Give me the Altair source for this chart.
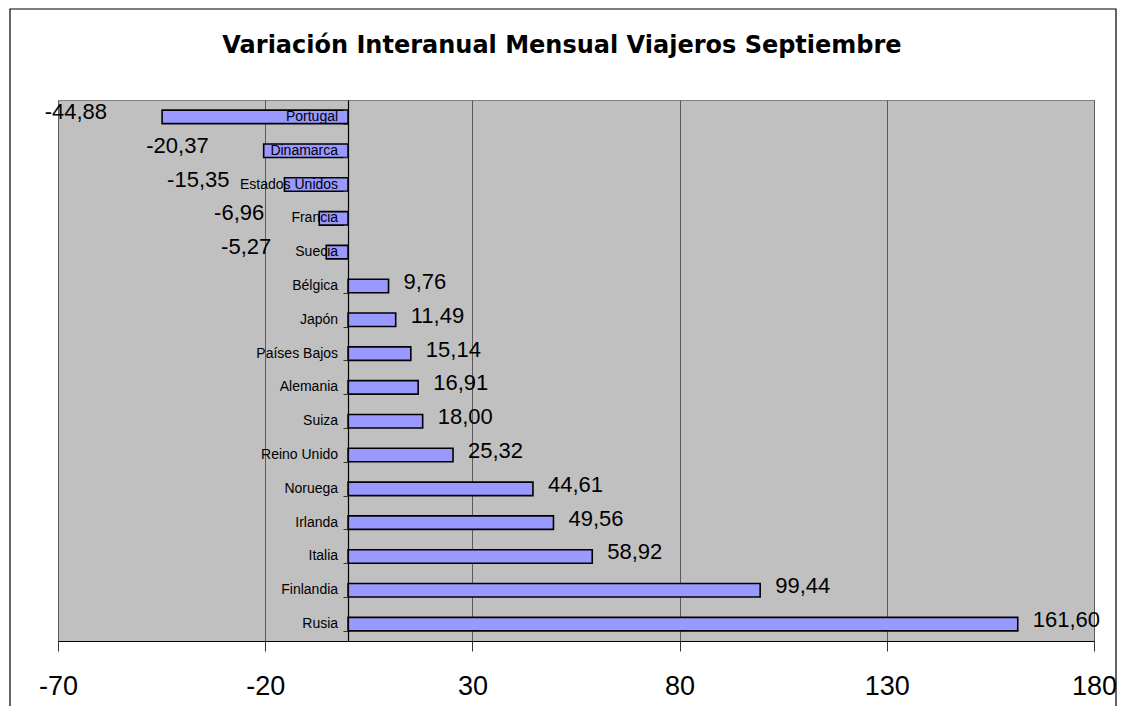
import altair as alt
import pandas as pd

countries = ["Portugal", "Dinamarca", "Estados Unidos", "Francia", "Suecia", "Bélgica",
             "Japón", "Países Bajos", "Alemania", "Suiza", "Reino Unido", "Noruega",
             "Irlanda", "Italia", "Finlandia", "Rusia"]
values = [-44.88, -20.37, -15.35, -6.96, -5.27, 9.76, 11.49, 15.14, 16.91, 18.00,
          25.32, 44.61, 49.56, 58.92, 99.44, 161.60]
x_ticks = [-70, -20, 30, 80, 130, 180]
title_text = "Variación Interanual Mensual Viajeros Septiembre"

FONT = "Liberation Sans"

df = pd.DataFrame({"pais": countries, "valor": values})
df["etiqueta"] = [f"{v:.2f}".replace(".", ",") for v in values]

x_enc_scale = alt.Scale(domain=[x_ticks[0], x_ticks[-1]], nice=False, zero=False)
y_scale = alt.Scale(paddingInner=0.6, paddingOuter=0.3)

base = alt.Chart(df)

bars = base.mark_bar(fill="#9999FF", stroke="black", strokeWidth=1.6).encode(
    x=alt.X("valor:Q", scale=x_enc_scale,
            axis=alt.Axis(values=x_ticks, title=None, grid=True, gridColor="#5a5a5a",
                          gridWidth=1, domainColor="black", domainWidth=1,
                          tickColor="#333333", tickSize=10, labelFontSize=27,
                          labelFont=FONT, labelColor="black", labelPadding=22,
                          labelFlush=False, labelExpr="'' + datum.value")),
    x2=alt.datum(0),
    y=alt.Y("pais:N", sort=countries, scale=y_scale,
            axis=alt.Axis(title=None, labels=False, grid=False, domain=True,
                          domainColor="black", domainWidth=1.2, ticks=True,
                          tickBand="extent", tickSize=5, tickColor="#333333",
                          offset=-290, zindex=1)),
)

cat_labels = base.mark_text(align="right", baseline="middle", dx=-10, fontSize=14,
                            font=FONT, color="black").encode(
    x=alt.datum(0),
    y=alt.Y("pais:N", sort=countries),
    text="pais:N",
)

pos_labels = base.transform_filter("datum.valor >= 0").mark_text(
    align="left", baseline="middle", dx=15, dy=-4, fontSize=22, font=FONT, color="black"
).encode(
    x="valor:Q",
    y=alt.Y("pais:N", sort=countries),
    text="etiqueta:N",
)

neg_labels = base.transform_filter("datum.valor < 0").mark_text(
    align="right", baseline="middle", dx=-55, dy=-5, fontSize=22, font=FONT, color="black"
).encode(
    x="valor:Q",
    y=alt.Y("pais:N", sort=countries),
    text="etiqueta:N",
)

title_df = pd.DataFrame({"t": [title_text]})
title = alt.Chart(title_df).mark_text(
    align="center", baseline="alphabetic", fontSize=24, fontWeight="bold",
    font="DejaVu Sans", color="black"
).encode(x=alt.value(504), y=alt.value(-47), text="t:N")

frame = alt.Chart(title_df).mark_rect(fill=None, stroke="black", strokeWidth=1.2).encode(
    x=alt.value(-48), x2=alt.value(1058), y=alt.value(-91), y2=alt.value(640)
)

chart = alt.layer(frame, bars, cat_labels, pos_labels, neg_labels, title).properties(
    width=1036, height=541,
    autosize=alt.AutoSizeParams(type="none"),
    padding={"left": 50, "top": 92, "right": 23, "bottom": 65},
    background="white",
).configure_view(fill="#C0C0C0", stroke="#808080", strokeWidth=1)

chart.save("out.html", embed_options={"renderer": "svg", "actions": False})
